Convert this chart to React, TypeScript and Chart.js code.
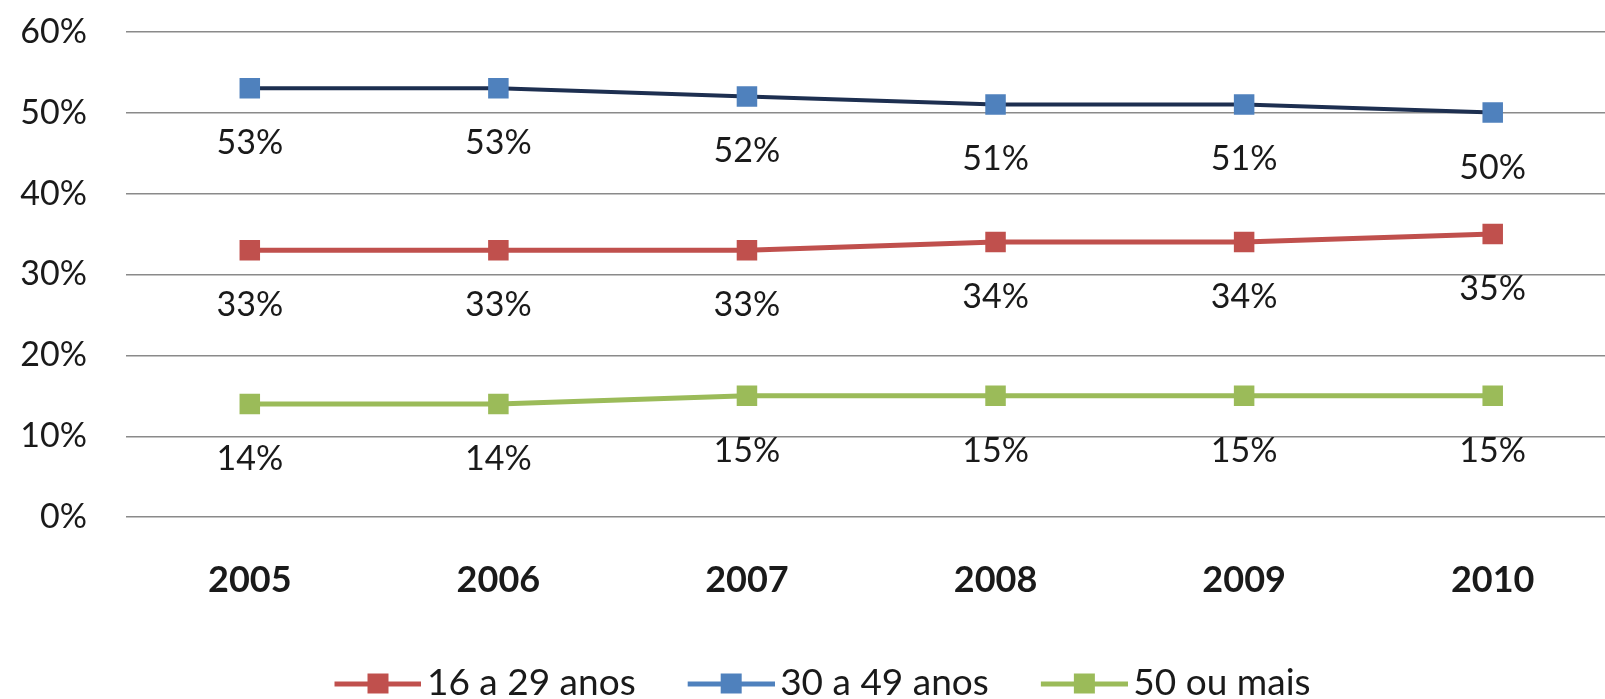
import React, { useEffect, useRef } from 'react';
import { Chart, registerables } from 'chart.js';

Chart.register(...registerables);

// ---- Data ----
const categories: string[] = ['2005', '2006', '2007', '2008', '2009', '2010'];
const seriesNames: string[] = ['16 a 29 anos', '30 a 49 anos', '50 ou mais'];
const values16to29: number[] = [33, 33, 33, 34, 34, 35];
const values30to49: number[] = [53, 53, 52, 51, 51, 50];
const values50plus: number[] = [14, 14, 15, 15, 15, 15];
const yMin = 0;
const yMax = 60;
const yStep = 10;

// ---- Styles ----
const FONT = 'Lato, "Open Sans", sans-serif';
const TEXT = '#1a1a1a';
const RED = '#C0504D';
const BLUE = '#4F81BD';
const NAVY = '#1d2f50';
const GREEN = '#9BBB59';

// legend symbol: line with square marker, drawn in the right part of a wider transparent image
function makeLegendImage(lineColor: string, markerColor: string): HTMLCanvasElement {
  const c = document.createElement('canvas');
  c.width = 118;
  c.height = 24;
  const g = c.getContext('2d')!;
  const off = 31;
  g.fillStyle = lineColor;
  g.fillRect(off, 10, 87, 5);
  g.fillStyle = markerColor;
  g.fillRect(off + 33, 2, 21, 20);
  return c;
}

const dataLabelPlugin = {
  id: 'pointValueLabels',
  afterDatasetsDraw(chart: any) {
    const ctx = chart.ctx;
    ctx.save();
    ctx.font = `34px ${FONT}`;
    ctx.fillStyle = TEXT;
    ctx.textAlign = 'center';
    ctx.textBaseline = 'middle';
    chart.data.datasets.forEach((ds: any, i: number) => {
      const meta = chart.getDatasetMeta(i);
      meta.data.forEach((pt: any, j: number) => {
        ctx.fillText(`${ds.data[j]}%`, pt.x, pt.y + 55);
      });
    });
    ctx.restore();
  },
};

export default function App() {
  const canvasRef = useRef<HTMLCanvasElement | null>(null);

  useEffect(() => {
    if (!canvasRef.current) return;
    const legendImgs = [
      makeLegendImage(RED, RED),
      makeLegendImage(BLUE, BLUE),
      makeLegendImage(GREEN, GREEN),
    ];
    const chart = new Chart(canvasRef.current, {
      type: 'line',
      data: {
        labels: categories,
        datasets: [
          {
            label: seriesNames[0],
            data: values16to29,
            borderColor: RED,
            backgroundColor: RED,
            borderWidth: 5,
            pointStyle: 'rect',
            pointRadius: 14.5,
            pointBackgroundColor: RED,
            pointBorderWidth: 0,
            tension: 0,
          },
          {
            label: seriesNames[1],
            data: values30to49,
            borderColor: NAVY,
            backgroundColor: BLUE,
            borderWidth: 4,
            pointStyle: 'rect',
            pointRadius: 14.5,
            pointBackgroundColor: BLUE,
            pointBorderWidth: 0,
            tension: 0,
          },
          {
            label: seriesNames[2],
            data: values50plus,
            borderColor: GREEN,
            backgroundColor: GREEN,
            borderWidth: 5,
            pointStyle: 'rect',
            pointRadius: 14.5,
            pointBackgroundColor: GREEN,
            pointBorderWidth: 0,
            tension: 0,
          },
        ],
      },
      options: {
        responsive: false,
        animation: false,
        layout: { padding: { top: 31.7, left: 10, right: 23, bottom: 0 } },
        scales: {
          x: {
            type: 'category',
            offset: true,
            grid: { display: false, drawTicks: false },
            border: { display: false },
            afterFit: (scale: any) => {
              scale.height = 113.8;
              scale.paddingLeft = 0;
              scale.paddingRight = 0;
            },
            ticks: {
              color: TEXT,
              padding: 45.3,
              maxRotation: 0,
              font: { family: FONT, size: 36, weight: 'bold', lineHeight: 1 },
            },
          },
          y: {
            min: yMin,
            max: yMax,
            grid: { color: '#8a8a8a', lineWidth: 1.5, drawTicks: false },
            border: { display: false },
            afterFit: (scale: any) => {
              scale.width = 115.5;
              scale.paddingTop = 0;
              scale.paddingBottom = 0;
            },
            ticks: {
              stepSize: yStep,
              padding: 38.5,
              color: TEXT,
              font: { family: FONT, size: 34 },
              callback: (v: any) => `${v}%`,
            },
          },
        },
        plugins: {
          title: { display: false },
          tooltip: { enabled: false },
          legend: {
            display: true,
            position: 'bottom',
            maxHeight: 81.5,
            labels: {
              usePointStyle: true,
              pointStyleWidth: 92,
              padding: 34,
              color: TEXT,
              font: { family: FONT, size: 37 },
              generateLabels: (ch: any) =>
                Chart.defaults.plugins.legend.labels
                  .generateLabels(ch)
                  .map((l: any, i: number) => ({ ...l, pointStyle: legendImgs[i] })),
            },
          },
        },
      } as any,
      plugins: [dataLabelPlugin],
    });
    return () => chart.destroy();
  }, []);

  return (
    <div
      style={{
        position: 'fixed',
        left: 0,
        top: 0,
        width: 1605,
        height: 699,
        overflow: 'hidden',
        background: '#ffffff',
      }}
    >
      <canvas
        ref={canvasRef}
        width={1640}
        height={712}
        style={{ display: 'block', width: 1640, height: 712 }}
      />
    </div>
  );
}
